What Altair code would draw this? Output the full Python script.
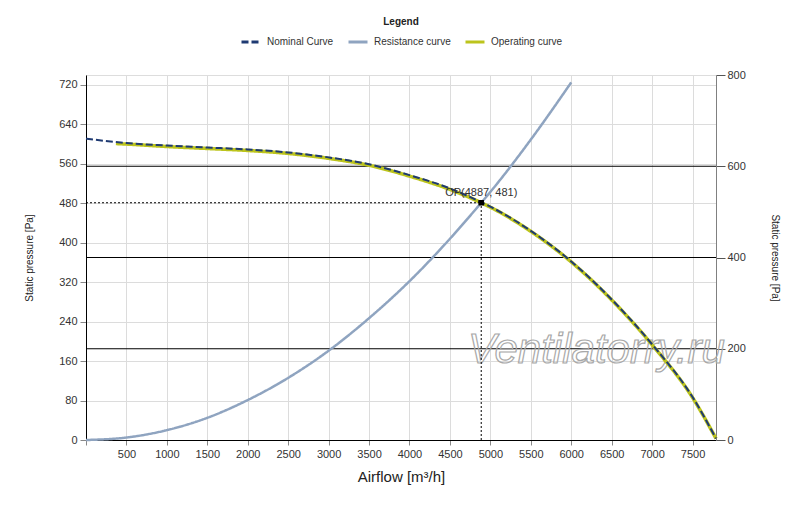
import altair as alt
import pandas as pd

# ---- data ----
series_names = ["Nominal Curve", "Resistance curve", "Operating curve"]
series_colors = ["#1f3a72", "#8fa4c0", "#bcc41c"]

flow_nominal = [0, 370, 500, 1000, 1500, 2000, 2500, 3000, 3500, 4000, 4500, 4887, 5000, 5500, 6000, 6500, 7000, 7500, 7790]
pres_nominal = [611, 604, 602, 597, 593, 589, 583, 573, 559, 537, 510, 482, 473, 424, 362, 285, 194, 87, 3]

flow_operating = [370, 500, 1000, 1500, 2000, 2500, 3000, 3500, 4000, 4500, 4887, 5000, 5500, 6000, 6500, 7000, 7500, 7790]
pres_operating = [601, 600, 595, 591, 587, 581, 571, 557, 535, 508, 481, 472, 423, 361, 284, 193, 86, 3]

flow_resist = [0, 500, 1000, 1500, 2000, 2500, 3000, 3500, 4000, 4500, 4887, 5000, 5500, 6000]
pres_resist = [0, 5, 20, 45, 81, 126, 181, 247, 322, 408, 481, 503, 609, 725]

op_flow = 4887
op_pres = 481
op_label = "OP(4887, 481)"

right_grid = [200, 400, 600]
right_ticks = [0, 200, 400, 600, 800]
left_ticks = [0, 80, 160, 240, 320, 400, 480, 560, 640, 720]
x_ticks = list(range(0, 7501, 500))

watermark_text = "Ventilatorry.ru"
watermark_pos = (6311, 182)

FONT = "Liberation Sans"

# ---- scales / axes ----
xs = alt.Scale(domain=[0, 7790], nice=False, zero=False)
ys_left = alt.Scale(domain=[0, 740], nice=False)
ys_right = alt.Scale(domain=[0, 800], nice=False)

x_axis = alt.Axis(values=x_ticks, format="d", labelExpr="datum.value == 0 ? '' : datum.label",
                  grid=True, gridColor="#dcdcdc", gridWidth=1,
                  domainColor="#000000", tickColor="#888888", tickSize=5,
                  labelFontSize=11, labelColor="#333333", labelPadding=3,
                  title="Airflow [m³/h]", titleFontSize=15, titleFontWeight="normal",
                  titleColor="#222222", titlePadding=10, labelFlush=False)
y_axis_left = alt.Axis(orient="left", values=left_ticks, grid=True, gridColor="#dcdcdc",
                       domainColor="#000000", tickColor="#888888", tickSize=6,
                       labelFontSize=11, labelColor="#333333", labelPadding=3,
                       title="Static pressure [Pa]", titleFontSize=10, titleFontWeight="normal",
                       titleColor="#222222", titlePadding=24)

X = alt.X("x:Q", scale=xs, axis=x_axis)
Y = alt.Y("y:Q", scale=ys_left, axis=y_axis_left)

color = alt.Color("series:N", scale=alt.Scale(domain=series_names, range=series_colors),
                  legend=alt.Legend(title="Legend", orient="none", legendX=154, legendY=-58,
                                    direction="horizontal", titleAnchor="middle", titleAlign="center",
                                    titleFontSize=10, titleFontWeight="bold", titleColor="#222222",
                                    labelFontSize=10, labelColor="#333333", symbolType="stroke",
                                    symbolSize=361, symbolStrokeWidth=3, columnPadding=8,
                                    labelOffset=5, titlePadding=4))
dash = alt.StrokeDash("series:N", scale=alt.Scale(domain=series_names, range=[[7, 3], [1, 0], [1, 0]]),
                      legend=None)

df_nom = pd.DataFrame({"x": flow_nominal, "y": pres_nominal, "series": series_names[0]})
df_res = pd.DataFrame({"x": flow_resist, "y": pres_resist, "series": series_names[1]})
df_op = pd.DataFrame({"x": flow_operating, "y": pres_operating, "series": series_names[2]})

res_line = alt.Chart(df_res).mark_line(strokeWidth=2.5, interpolate="monotone").encode(x=X, y=Y, color=color, strokeDash=dash)
op_line = alt.Chart(df_op).mark_line(strokeWidth=3.5, interpolate="monotone").encode(x=X, y=Y, color=color, strokeDash=dash)
nom_line = alt.Chart(df_nom).mark_line(strokeWidth=2, interpolate="monotone").encode(x=X, y=Y, color=color, strokeDash=dash)

df_h = pd.DataFrame({"x": [0], "x2": [op_flow], "y": [op_pres]})
df_v = pd.DataFrame({"x": [op_flow], "y": [0], "y2": [op_pres]})
hrule = alt.Chart(df_h).mark_rule(color="black", strokeDash=[2, 2], strokeWidth=1).encode(x=X, x2="x2:Q", y=Y)
vrule = alt.Chart(df_v).mark_rule(color="black", strokeDash=[2, 2], strokeWidth=1).encode(x=X, y=Y, y2="y2:Q")

df_op_pt = pd.DataFrame({"x": [op_flow], "y": [op_pres], "t": [op_label]})
pt = alt.Chart(df_op_pt).mark_square(size=30, color="black", opacity=1).encode(x=X, y=Y)
label = alt.Chart(df_op_pt).mark_text(font=FONT, fontSize=11, color="#333333", align="center",
                                      baseline="bottom", dy=-5).encode(x=X, y=Y, text="t:N")

df_wm = pd.DataFrame({"x": [watermark_pos[0]], "y": [watermark_pos[1]], "t": [watermark_text]})
wm = alt.Chart(df_wm).mark_text(font=FONT, fontSize=42, fontStyle="italic", fillOpacity=0,
                                stroke="#a8a8a8", strokeWidth=1.2, align="center",
                                baseline="middle").encode(x=X, y=Y, text="t:N")

left_layer = alt.layer(wm, res_line, op_line, nom_line, hrule, vrule, pt, label)

df_right = pd.DataFrame({"r": right_grid})
right_layer = alt.Chart(df_right).mark_rule(color="black", strokeWidth=1).encode(
    y=alt.Y("r:Q", scale=ys_right,
            axis=alt.Axis(orient="right", values=right_ticks, grid=False, domainColor="#808080",
                          tickColor="#555555", tickSize=9, labelFontSize=11, labelColor="#333333",
                          labelPadding=2, title="Static pressure [Pa]", titleFontSize=10,
                          titleFontWeight="normal", titleColor="#222222", titlePadding=24))
)

chart = alt.layer(right_layer, left_layer).resolve_scale(y="independent").properties(
    width=630, height=365,
    autosize=alt.AutoSizeParams(type="none"),
    padding={"left": 78, "top": 67, "right": 76, "bottom": 59},
).configure_view(stroke=None).configure(font=FONT, background="white")

chart.save("out.html", embed_options={"renderer": "svg", "actions": False})
